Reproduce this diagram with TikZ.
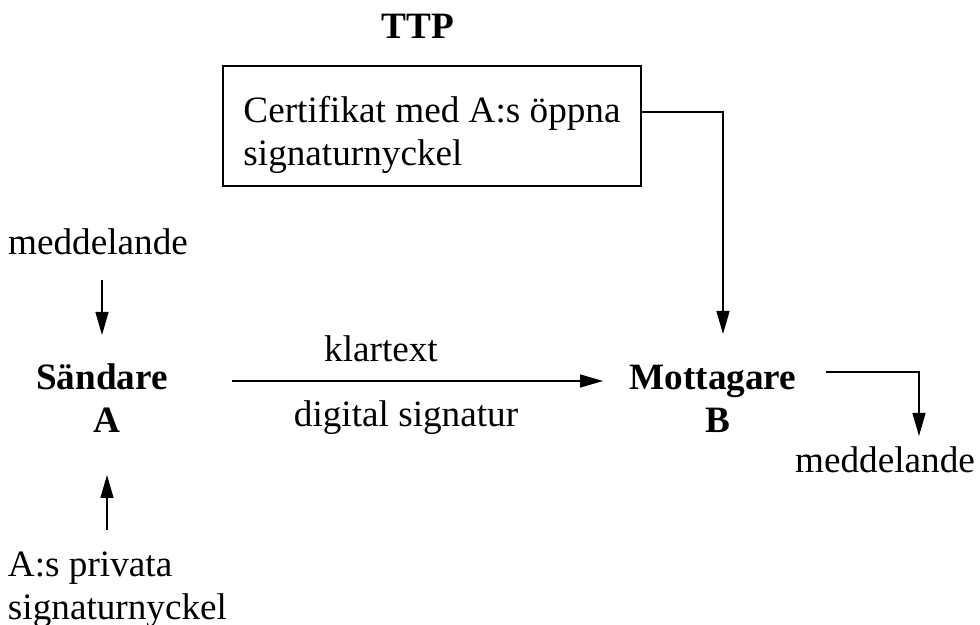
\documentclass[tikz,border=0pt]{standalone}
\usepackage{fontspec}
\setmainfont{Liberation Serif}
\usetikzlibrary{arrows.meta}

\begin{document}
\begin{tikzpicture}[x=0.5pt, y=-0.5pt, line width=0.6pt,
		every node/.style={font=\fontsize{18.6}{21.5}\selectfont, inner sep=0pt, outer sep=0pt},
		lbl/.style={anchor=base, text height=13pt, text depth=4pt},
		certbox/.style={draw, align=left, inner xsep=10.2pt, minimum width=209pt, minimum height=60pt},
		arr/.style={-{Triangle[length=11.5pt, width=6.5pt]}}]
			\useasboundingbox (0,0) rectangle (980,625);
			\node[lbl] (ttp) at (418,39) {\bfseries TTP};
			\node[certbox] (cert) at (432,126) {\rule{0pt}{22pt}Certifikat med A:s öppna\\signaturnyckel};
			\node[lbl] (medA) at (98,255) {meddelande};
			\node[lbl] (sandare) at (102,390) {\bfseries Sändare};
			\node[lbl] (sA) at (107,433) {\bfseries A};
			\node[lbl, anchor=base west] (privA) at (8,576) {A:s privata};
			\node[lbl, anchor=base west] (privB) at (8,619) {signaturnyckel};
			\node[lbl] (klar) at (381,362) {klartext};
			\node[lbl] (dsig) at (406,427) {digital signatur};
			\node[lbl] (mott) at (713,390) {\bfseries Mottagare};
			\node[lbl] (mB) at (718,433) {\bfseries B};
			\node[lbl] (medB) at (885,473) {meddelande};
			\draw[arr, shorten <=8.5pt, shorten >=14.5pt] (sandare.north |- medA.south) -- (sandare.north);
			\draw[arr, shorten <=10pt, shorten >=17pt] (sA.south |- privA.north) -- (sA.south);
			\draw[arr, shorten <=32pt, shorten >=13.3pt] (sandare.east) -- (mott.west);
			\draw[arr, shorten >=15pt] ([yshift=7pt]cert.east) -| ([xshift=5pt]mott.north);
			\draw[arr, shorten <=15pt, shorten >=5.5pt] ([yshift=4.5pt]mott.east) -| ([xshift=17pt]medB.north);
		\end{tikzpicture}
\end{document}
